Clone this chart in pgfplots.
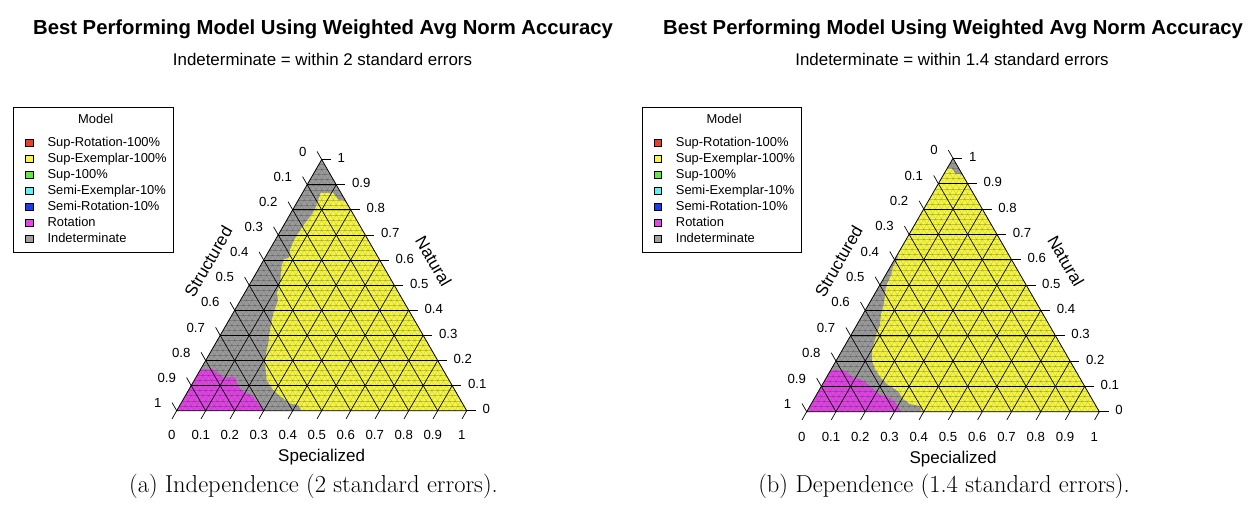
\documentclass[border=0pt]{standalone}
\usepackage{fontspec}
\usepackage{pgfplots}
\pgfplotsset{compat=1.18}
\newfontfamily\arial{Liberation Sans}
\definecolor{cyel}{RGB}{245,245,70}
\definecolor{cmag}{RGB}{222,70,226}
\definecolor{cgray}{RGB}{155,155,155}
\definecolor{lred}{RGB}{232,62,42}
\definecolor{lyel}{RGB}{245,245,80}
\definecolor{lgrn}{RGB}{100,230,70}
\definecolor{lcyan}{RGB}{100,240,240}
\definecolor{lblue}{RGB}{25,60,240}
\definecolor{lmag}{RGB}{228,70,228}
\definecolor{lgray}{RGB}{160,160,160}
\tikzset{tl/.style={font=\arial\fontsize{13.2}{15}\selectfont, inner sep=0pt},
  al/.style={font=\arial\fontsize{17}{20}\selectfont, inner sep=0pt}}
\newcommand{\tlab}[1]{\ifnum#1=0 0\else\ifnum#1=10 1\else0.#1\fi\fi}
\newcommand{\ternarydecor}{%
  \pgfplotsinvokeforeach{1,...,49}{%
    \draw[black,opacity=0.2,line width=0.3pt] ({##1/100},{##1/50*0.866025}) -- ({1-##1/100},{##1/50*0.866025});
    \draw[black,opacity=0.2,line width=0.3pt] ({##1/50},0) -- ({##1/50+(1-##1/50)/2},{(1-##1/50)*0.866025});
    \draw[black,opacity=0.2,line width=0.3pt] ({##1/50},0) -- ({##1/100},{##1/50*0.866025});
  }%
  \pgfplotsinvokeforeach{1,...,9}{%
    \draw[black,line width=0.65pt] ({##1/20},{##1/10*0.866025}) -- ({1-##1/20},{##1/10*0.866025});
    \draw[black,line width=0.65pt] ({##1/10},0) -- ({##1/10+(1-##1/10)/2},{(1-##1/10)*0.866025});
    \draw[black,line width=0.65pt] ({##1/10},0) -- ({##1/20},{##1/10*0.866025});
  }%
  \draw[black,line width=0.8pt] (0,0) -- (1,0) -- (0.5,0.866025) -- cycle;
  \pgfplotsinvokeforeach{0,...,10}{%
    \draw[black,line width=0.7pt] ({##1/10},0) -- ({##1/10-0.016},-0.028);
    \draw[black,line width=0.7pt] ({1-##1/20},{##1/10*0.866025}) -- ({1-##1/20+0.032},{##1/10*0.866025});
    \draw[black,line width=0.7pt] ({(1-##1/10)/2},{(1-##1/10)*0.866025}) -- ({(1-##1/10)/2-0.016},{(1-##1/10)*0.866025+0.028});
    \node[tl,anchor=center] at ({##1/10-0.017},-0.085) {\tlab{##1}};
    \node[tl,anchor=west] at ({1-##1/20+0.054},{##1/10*0.866025+0.005}) {\tlab{##1}};
    \node[tl,anchor=east] at ({(1-##1/10)/2-0.052},{(1-##1/10)*0.866025+0.027}) {\tlab{##1}};
  }%
  \node[al,rotate=60] at (0.109,0.514) {Structured};
  \node[al,rotate=-60] at (0.886,0.515) {Natural};
  \node[al] at (0.5,-0.161) {Specialized};
}
\newcommand{\ternarylegend}{%
  \addlegendimage{empty legend}\addlegendentry[text depth=9.2pt]{\hspace*{30.6pt}Model}
  \addlegendimage{fill=lred}\addlegendentry{Sup-Rotation-100\%}
  \addlegendimage{fill=lyel}\addlegendentry{Sup-Exemplar-100\%}
  \addlegendimage{fill=lgrn}\addlegendentry{Sup-100\%}
  \addlegendimage{fill=lcyan}\addlegendentry{Semi-Exemplar-10\%}
  \addlegendimage{fill=lblue}\addlegendentry{Semi-Rotation-10\%}
  \addlegendimage{fill=lmag}\addlegendentry{Rotation}
  \addlegendimage{fill=lgray}\addlegendentry{Indeterminate}
}
\pgfplotsset{ternax/.style={scale only axis, axis lines=none,
  xmin=0, xmax=1, ymin=0, ymax=0.866025, enlargelimits=false, clip=false,
  xtick=\empty, ytick=\empty, anchor=south west,
  legend cell align=left,
  legend image code/.code={\path (0pt,0pt); \draw[##1,draw=black,line width=0.5pt] (4.9pt,-3.1pt) rectangle (12.5pt,3.8pt);},
  legend style={anchor=north west, draw=black, line width=0.7pt, fill=white,
    inner xsep=6.7pt, inner ysep=6.8pt, row sep=4pt, column sep=14.1pt,
    nodes={inner sep=0pt, text height=9.5pt, text depth=2.5pt, font=\arial\fontsize{12.9}{14}\selectfont},
    cells={anchor=west}}
}}
\begin{document}
\begin{tikzpicture}
\useasboundingbox (0,0) rectangle (1252pt,506pt);
% ---------------- panel (a) ----------------
\begin{axis}[ternax, at={(176.7pt,95.3pt)}, width=290pt, height=251.147pt,
  legend style={at={(-0.5634,1.2081)}}]
\addplot[fill=cgray, draw=none, forget plot] coordinates {(0,0) (1,0) (0.5,0.866025)} -- cycle;
\addplot[fill=cyel, draw=none, forget plot] coordinates {
(0.4966,0.7507) (0.539,0.7507) (0.5562,0.7283) (0.5769,0.7248) (0.5959,0.70) (1,0) (0.431,0)
(0.4193,0.0197) (0.3907,0.0255) (0.3562,0.0507) (0.3331,0.0714) (0.3103,0.1059) (0.3045,0.1634)
(0.3103,0.2093) (0.3159,0.2324) (0.3217,0.2783) (0.3331,0.3359) (0.3503,0.3817) (0.3448,0.4048)
(0.3562,0.4334) (0.3621,0.5024) (0.371,0.5221) (0.3883,0.529) (0.3907,0.5541) (0.4021,0.5828)
(0.4193,0.6117) (0.4424,0.6462) (0.4655,0.6748) (0.4803,0.7034) (0.4883,0.7266)} -- cycle;
\addplot[fill=cmag, draw=none, forget plot] coordinates {
(0,0) (0.0824,0.1428) (0.1252,0.1428) (0.1607,0.1152) (0.201,0.1152) (0.2124,0.0828)
(0.2355,0.0621) (0.2586,0.0541) (0.2814,0.0255) (0.2986,0)} -- cycle;
\ternarydecor
\ternarylegend
\end{axis}
% ---------------- panel (b) ----------------
\begin{axis}[ternax, at={(806.7pt,94.3pt)}, width=292.6pt, height=253.4pt,
  legend style={at={(-0.5639,1.2013)}}]
\addplot[fill=cgray, draw=none, forget plot] coordinates {(0,0) (1,0) (0.5,0.866025)} -- cycle;
\addplot[fill=cyel, draw=none, forget plot] coordinates {
(0.393,0) (1,0) (0.5329,0.809) (0.5068,0.8147) (0.4956,0.832) (0.4804,0.832) (0.3103,0.5373)
(0.312,0.5219) (0.2949,0.4945) (0.2881,0.4672) (0.2744,0.4364) (0.2676,0.4057) (0.2642,0.3681)
(0.2539,0.3339) (0.2505,0.2963) (0.2403,0.2724) (0.2334,0.2450) (0.2232,0.2109) (0.2232,0.1733)
(0.2334,0.1459) (0.2505,0.1186) (0.2744,0.0947) (0.312,0.0708) (0.3291,0.0434) (0.353,0.0263)
(0.3872,0.0195)} -- cycle;
\addplot[fill=cmag, draw=none, forget plot] coordinates {
(0,0) (0.0824,0.1425) (0.1241,0.1425) (0.1548,0.1186) (0.189,0.1080) (0.2163,0.0878)
(0.2505,0.0571) (0.2847,0.0468) (0.3052,0.0263) (0.3223,0)} -- cycle;
\ternarydecor
\ternarylegend
\end{axis}
% ---------------- titles and captions ----------------
\node[anchor=base, inner sep=0pt, font=\arial\bfseries\fontsize{20.3}{24}\selectfont] at (323pt,471.7pt) {Best Performing Model Using Weighted Avg Norm Accuracy};
\node[anchor=base, inner sep=0pt, font=\arial\fontsize{16.9}{20}\selectfont] at (322.5pt,440pt) {Indeterminate = within 2 standard errors};
\node[anchor=base, inner sep=0pt, font=\arial\bfseries\fontsize{20.3}{24}\selectfont] at (953pt,471.7pt) {Best Performing Model Using Weighted Avg Norm Accuracy};
\node[anchor=base, inner sep=0pt, font=\arial\fontsize{16.9}{20}\selectfont] at (952pt,440pt) {Indeterminate = within 1.4 standard errors};
\node[anchor=base, inner sep=0pt, font=\fontsize{24.5}{28}\selectfont] at (313.5pt,14pt) {(a) Independence (2 standard errors).};
\node[anchor=base, inner sep=0pt, font=\fontsize{24.5}{28}\selectfont] at (944pt,14pt) {(b) Dependence (1.4 standard errors).};
\end{tikzpicture}
\end{document}
